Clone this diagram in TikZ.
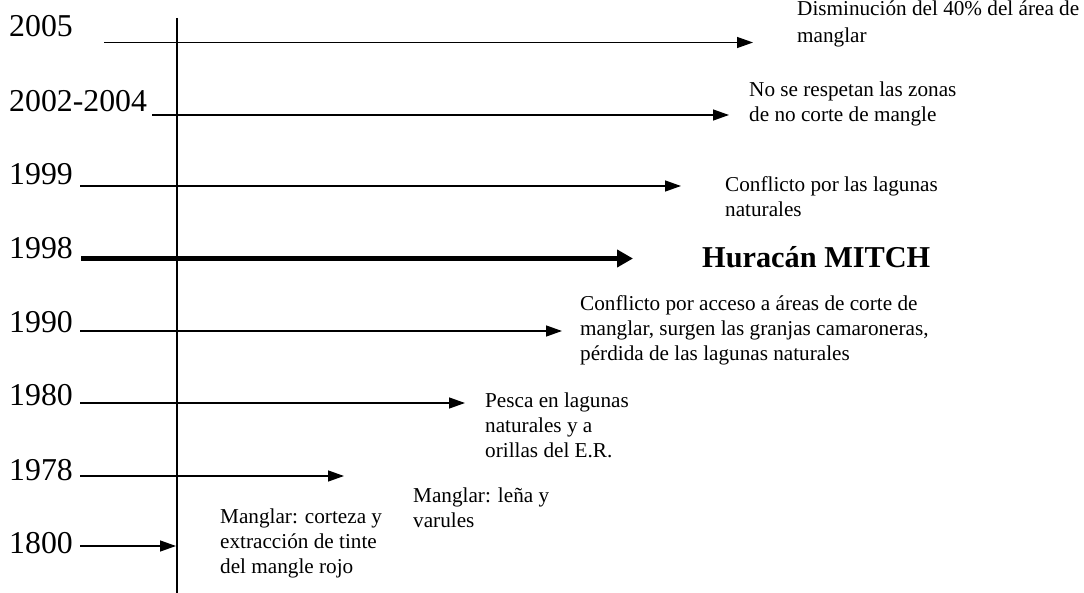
\documentclass[tikz,border=0pt]{standalone}
\usepackage{fontspec}
\setmainfont{Liberation Serif}
\usetikzlibrary{arrows.meta}
\begin{document}
\begin{tikzpicture}[x=1pt,y=-1pt,
  year/.style={anchor=base west,inner sep=0pt,font=\fontsize{31.8}{32}\selectfont},
  event/.style={anchor=base west,inner sep=0pt,align=left,font=\fontsize{21.2}{24.6}\selectfont},
  arr/.style={line width=1.3pt,-{Triangle[length=16pt,width=11pt]}},
  thickarr/.style={line width=4.5pt,-{Triangle[length=16pt,width=17pt]}},
  axis/.style={line width=1.6pt}]
\useasboundingbox (0,0) rectangle (1084,593);
% axis
\coordinate (atop) at (177,18);
\coordinate (abot) at (177,593);
\draw[axis] (atop) -- (abot);
% years
\node[year] (y2005) at (9,37) {2005};
\node[year] (y2002) at (9,112) {2002-2004};
\node[year] (y1999) at (9,185) {1999};
\node[year] (y1998) at (9,259) {1998};
\node[year] (y1990) at (9,333) {1990};
\node[year] (y1980) at (9,405) {1980};
\node[year] (y1978) at (9,480) {1978};
\node[year] (y1800) at (9,553) {1800};
% arrow ends
\coordinate (s2005) at (104,42.5);  \coordinate (e2005) at (753,42.5);
\coordinate (s2002) at (152,115);   \coordinate (e2002) at (729,115);
\coordinate (s1999) at (80,186);    \coordinate (e1999) at (681,186);
\coordinate (s1998) at (81,258.5);  \coordinate (e1998) at (633,258.5);
\coordinate (s1990) at (80,331);    \coordinate (e1990) at (562,331);
\coordinate (s1980) at (80,403);    \coordinate (e1980) at (465,403);
\coordinate (s1978) at (80,476);    \coordinate (e1978) at (344,476);
\coordinate (s1800) at (80,546);    \coordinate (e1800) at (176,546);
\draw[arr] (s2005) -- (e2005);
\draw[arr] (s2002) -- (e2002);
\draw[arr] (s1999) -- (e1999);
\draw[thickarr] (s1998) -- (e1998);
\draw[arr] (s1990) -- (e1990);
\draw[arr] (s1980) -- (e1980);
\draw[arr] (s1978) -- (e1978);
\draw[arr] (s1800) -- (e1800);
% events (base anchor = baseline of last line)
\node[event,font=\fontsize{21.2}{27}\selectfont] (t2005) at (797,43) {Disminución del 40\% del área de\\manglar};
\node[event] (t2002) at (749,121.5) {No se respetan las zonas\\de no corte de mangle};
\node[event] (t1999) at (725,216.5) {Conflicto por las lagunas\\naturales};
\node[anchor=base west,inner sep=0pt,font=\fontsize{30.3}{31}\selectfont\bfseries] (t1998) at (702,268) {Huracán MITCH};
\node[event] (t1990) at (580,360) {Conflicto por acceso a áreas de corte de\\manglar, surgen las granjas camaroneras,\\pérdida de las lagunas naturales};
\node[event] (t1980) at (485,457) {Pesca en lagunas\\naturales y a\\orillas del E.R.};
\node[event] (t1978) at (413,527.5) {Manglar: leña y\\varules};
\node[event] (t1800) at (220,573) {Manglar: corteza y\\extracción de tinte\\del mangle rojo};
\end{tikzpicture}
\end{document}
